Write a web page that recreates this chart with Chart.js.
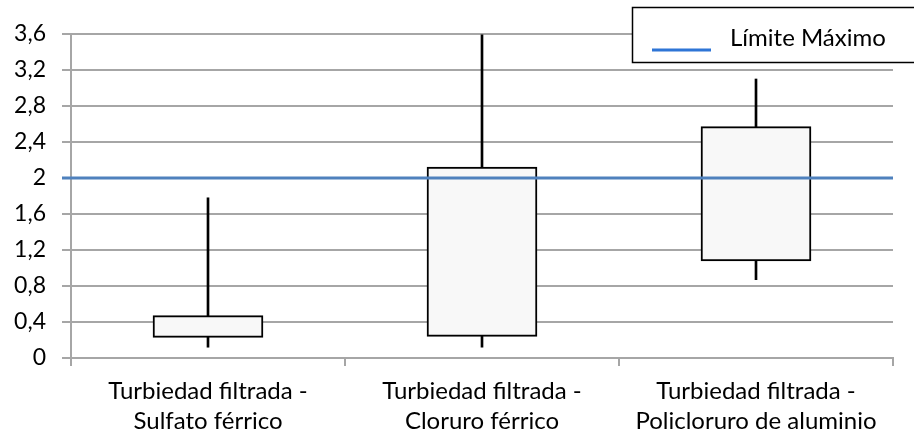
<!DOCTYPE html>
<html>
<head>
<meta charset="utf-8">
<title>Turbiedad filtrada</title>
<script src="https://cdn.jsdelivr.net/npm/chart.js@4/dist/chart.umd.min.js"></script>
<style>
  html, body { margin: 0; padding: 0; background: #fff; }
  #wrap { width: 914px; height: 437px; }
</style>
</head>
<body>
<div id="wrap"><canvas id="boxChart" width="914" height="437"></canvas></div>
<script>
// Data
const categories = [
    ["Turbiedad filtrada -", "Sulfato férrico"],
    ["Turbiedad filtrada -", "Cloruro férrico"],
    ["Turbiedad filtrada -", "Policloruro de aluminio"]
];
const whiskerMin = [0.12, 0.12, 0.87];
const boxLow = [0.23, 0.24, 1.08];
const boxHigh = [0.47, 2.12, 2.57];
const whiskerMax = [1.78, 3.59, 3.10];
const limitValue = 2;
const limitLabel = "Límite Máximo";
const yMin = 0;
const yMax = 3.6;
const yStep = 0.4;

const FONT = "Lato, 'Open Sans', sans-serif";
const GRID = "#a6a6a6";
const LIMIT_COLOR = "#4f81bd";

// floating bars: [low, high]
const boxes = boxLow.map((v, i) => [v, boxHigh[i]]);
const whiskers = whiskerMin.map((v, i) => [v, whiskerMax[i]]);

/**
 * Horizontal limit line across the plot, placed by the y scale
 */
const limitLinePlugin = {
    id: "limitLine",
    afterDatasetsDraw(chart) {
        const { ctx, chartArea, scales } = chart;
        const y = scales.y.getPixelForValue(limitValue);
        ctx.save();
        ctx.strokeStyle = LIMIT_COLOR;
        ctx.lineWidth = 3;
        ctx.beginPath();
        ctx.moveTo(chartArea.left - 9, y);
        ctx.lineTo(chartArea.right, y);
        ctx.stroke();
        ctx.restore();
    }
};

/**
 * Excel-style boxed legend in the top right corner
 */
const boxLegendPlugin = {
    id: "boxLegend",
    afterDraw(chart) {
        const { ctx } = chart;
        ctx.save();
        ctx.fillStyle = "#fff";
        ctx.fillRect(632, 7, 300, 55);
        ctx.strokeStyle = "#000";
        ctx.lineWidth = 1.5;
        ctx.strokeRect(632.5, 7.5, 300, 55);

        ctx.strokeStyle = "#2e75d6";
        ctx.lineWidth = 3;
        ctx.beginPath();
        ctx.moveTo(652, 50);
        ctx.lineTo(711, 50);
        ctx.stroke();

        ctx.fillStyle = "#000";
        ctx.font = "24px " + FONT;
        ctx.textBaseline = "alphabetic";
        ctx.fillText(limitLabel, 730, 46);
        ctx.restore();
    }
};

new Chart(document.getElementById("boxChart"), {
    type: "bar",
    data: {
        labels: categories,
        datasets: [
            {
                label: "Caja",
                data: boxes,
                backgroundColor: "#f8f8f8",
                borderColor: "#000",
                borderWidth: 2,
                borderSkipped: false,
                barThickness: 110,
                grouped: false,
                order: 1
            },
            {
                label: "Bigotes",
                data: whiskers,
                backgroundColor: "#000",
                borderWidth: 0,
                barThickness: 2,
                grouped: false,
                order: 2
            }
        ]
    },
    options: {
        responsive: false,
        devicePixelRatio: 1,
        animation: false,
        layout: { padding: { left: 0, right: 21, top: 34, bottom: 0 } },
        plugins: {
            legend: { display: false },
            tooltip: { enabled: false }
        },
        scales: {
            x: {
                grid: {
                    drawOnChartArea: false,
                    drawTicks: true,
                    tickLength: 8,
                    color: GRID,
                    lineWidth: 2
                },
                border: { display: true, color: GRID, width: 2 },
                ticks: {
                    color: "#000",
                    padding: 10,
                    maxRotation: 0,
                    autoSkip: false,
                    font: { family: FONT, size: 24, lineHeight: 1.27 }
                },
                afterFit(scale) { scale.height = 79; }
            },
            y: {
                min: yMin,
                max: yMax,
                grid: {
                    color: GRID,
                    lineWidth: 2,
                    drawTicks: true,
                    tickLength: 9
                },
                border: { display: true, color: GRID, width: 2 },
                ticks: {
                    stepSize: yStep,
                    color: "#000",
                    padding: 16,
                    font: { family: FONT, size: 23 },
                    callback: v => String(Number(v.toFixed(1))).replace(".", ",")
                },
                afterFit(scale) { scale.width = 71; }
            }
        }
    },
    plugins: [limitLinePlugin, boxLegendPlugin]
});
</script>
</body>
</html>
